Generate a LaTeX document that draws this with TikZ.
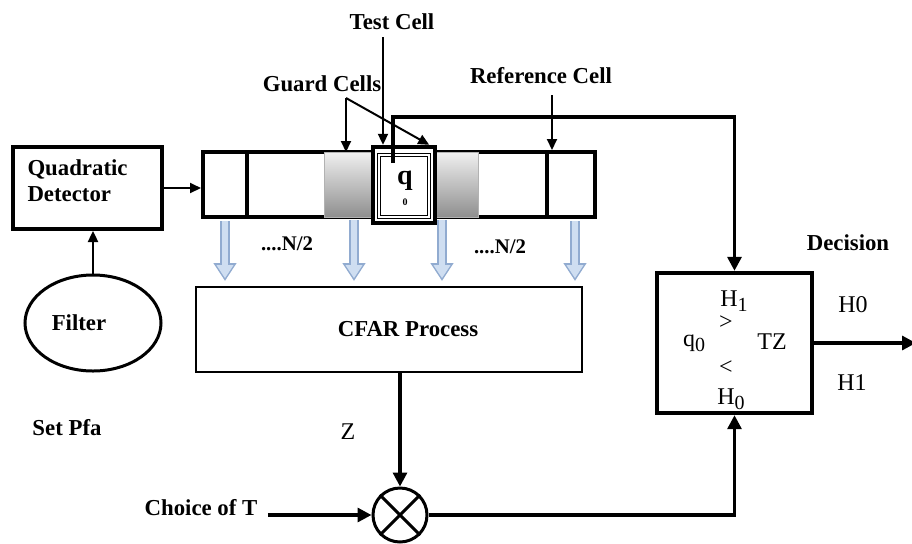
\documentclass[tikz,border=0pt]{standalone}
\usepackage{fontspec}
\setmainfont{Liberation Serif}
\usetikzlibrary{arrows.meta,calc,positioning,shapes.geometric}
\definecolor{arrFill}{HTML}{CFDEF1}
\definecolor{arrEdge}{HTML}{91ABD0}
\definecolor{grdTop}{HTML}{EFEFEF}
\definecolor{grdBot}{HTML}{8E8E8E}
\newcommand{\lsub}[1]{\raisebox{-0.45ex}{\fontsize{10}{10}\selectfont #1}}
\tikzset{
  btxt/.style={font=\fontsize{11.4}{13}\selectfont\bfseries, inner sep=1pt, align=center},
  rtxt/.style={font=\fontsize{12}{14}\selectfont, inner sep=1pt},
  cell/.style n args={2}{draw, line width=2pt, inner sep=0pt, minimum width=#1, minimum height=#2},
  guard/.style={draw=gray!60, line width=0.5pt, top color=grdTop, bottom color=grdBot,
        inner sep=0pt, minimum height=32.5pt},
  flow/.style={-{Triangle[length=7pt,width=7pt]}, line width=1.6pt},
  thin/.style={-{Triangle[length=5.5pt,width=5pt]}, line width=1pt},
  down/.style={-{Triangle[length=9pt,width=11pt]}, draw=arrEdge, line width=5pt,
        postaction={draw=arrFill, line width=3pt, shorten >=1.4pt,
        -{Triangle[length=6.5pt,width=8pt]}}},
}
\begin{document}
\begin{tikzpicture}[x=0.5pt, y=-0.5pt]
  \useasboundingbox (0,0) rectangle (912,543);
  % --- cell register ---
  \node[cell={196pt}{32.5pt}] (strip) at (399,184.5) {};
  \node[cell={22pt}{32.5pt}, fill=white] (refL) at (225,184.5) {};
  \node[guard, minimum width=24pt] (grdL) at (348,185) {};
  \node[guard, minimum width=21.5pt] (grdR) at (456.5,185) {};
  \node[cell={24pt}{32.5pt}, fill=white] (refR) at (571,184.5) {};
  \node[cell={31pt}{38pt}, line width=2.2pt, fill=white] (test) at (404,185) {};
  \node[draw, line width=0.4pt, double, double distance=0.8pt, inner sep=0pt,
        minimum width=25pt, minimum height=31pt] (testIn) at (404,186) {};
  \node[font=\fontsize{14}{14}\selectfont\bfseries, inner sep=0pt] (q) at (405,181) {q};
  \node[font=\fontsize{5}{5}\selectfont\bfseries, inner sep=0pt] (qsub) at (405,202) {0};
  \coordinate (qout) at (393,163);
  \node[btxt, font=\fontsize{10.4}{12}\selectfont\bfseries] (nL) at (287,244) {....N/2};
  \node[btxt, font=\fontsize{10.4}{12}\selectfont\bfseries] (nR) at (500,247) {....N/2};
  % --- cell labels ---
  \node[btxt] (lTest) at (392,22) {Test Cell};
  \node[btxt] (lGuard) at (322,84) {Guard Cells};
  \node[btxt] (lRef) at (541,76) {Reference Cell};
  \coordinate (tTop) at (383,37);
  \coordinate (gSplit) at (346,98);
  \coordinate (rTop) at (552,95);
  \draw[thin] (tTop) -- (tTop |- test.north);
  \draw[thin] (gSplit) -- (gSplit |- grdL.north);
  \draw[thin] (gSplit) -- ([xshift=-4pt]test.north east);
  \draw[thin] (rTop) -- (rTop |- refR.north);
  % --- detector side ---
  \node[draw, line width=2pt, minimum width=74.5pt, minimum height=41pt, inner sep=0pt] (qd)
       at (87.5,188) {};
  \node[btxt, text width=60pt, text depth=7pt, align=left] (qdtxt) at ([yshift=6.5pt]qd.center)
       {Quadratic\\Detector};
  \node[btxt, ellipse, draw, line width=1.5pt, minimum width=68pt, minimum height=48pt,
        inner sep=0pt] (filt) at (93,323) {Filter\hspace*{14pt}};
  \node[btxt] (pfa) at (67,428) {Set Pfa};
  \draw[thin] (qd.east) -- (qd.east -| strip.west);
  \draw[thin, line width=1.2pt] (filt.north) -- (filt.north |- qd.south);
  % --- CFAR and threshold ---
  \node[btxt, draw, line width=1pt, minimum width=193pt, minimum height=42.5pt] (cfar)
       at (389,329.5) {\hspace*{19pt}CFAR Process};
  \foreach \c/\dx in {refL/0, grdL/6, grdR/-14.5, refR/4}
    \draw[down] ($(\c.south)+(\dx,2)$) -- ($(\c.south |- cfar.north)+(\dx,-5)$);
  \node[circle, draw, line width=1.5pt, minimum size=27pt, inner sep=0pt] (mult) at (400,515) {};
  \draw[line width=1.5pt] (mult.north west) -- (mult.south east) (mult.north east) -- (mult.south west);
  \node[rtxt] (zlab) at (348,432) {Z};
  \node[btxt] (choice) at (201,508) {Choice of T};
  \coordinate (cIn) at ([xshift=4pt]choice.east);
  \draw[flow] (mult |- cfar.south) -- (mult.north);
  \draw[flow] (cIn |- mult.west) -- (mult.west);
  % --- decision ---
  \node[draw, line width=2.2pt, minimum width=77.5pt, minimum height=70pt] (dec) at (734.5,343) {};
  \node[rtxt] (h1) at (734,301) {H\lsub{1}};
  \node[rtxt] (gt) at (726,323) {>};
  \node[rtxt] (q0) at (694,343) {q\lsub{0}};
  \node[rtxt] (tz) at (772,342) {TZ};
  \node[rtxt] (lt) at (726,368) {<};
  \node[rtxt] (h0) at (731,399) {H\lsub{0}};
  \node[btxt] (decl) at (848,243) {Decision};
  \node[rtxt] (oh0) at (853,305) {H0};
  \node[rtxt] (oh1) at (852,383) {H1};
  \coordinate (out) at (916,343);
  \draw[flow] (qout) -- (qout |- 0,117) -| (dec.north);
  \draw[flow] (mult.east) -| (dec.south);
  \draw[flow] (dec.east) -- (out);
\end{tikzpicture}
\end{document}
